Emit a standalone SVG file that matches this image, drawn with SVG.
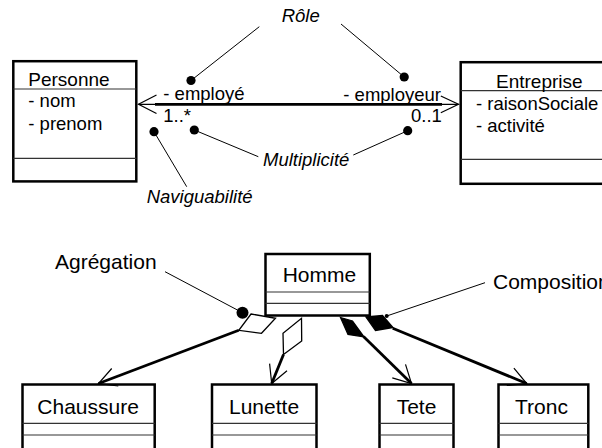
<svg xmlns="http://www.w3.org/2000/svg" width="602" height="448" viewBox="0 0 602 448">
  <style>
    .box { fill: #fff; stroke: #000; stroke-width: 2.5; }
    .sep { stroke: #333; stroke-width: 1.2; fill: none; }
    .t { font-family: "Liberation Sans", Arial, sans-serif; font-size: 18.5px; fill: #000; }
    .tb { font-family: "Liberation Sans", Arial, sans-serif; font-size: 21px; fill: #000; }
    .it { font-style: italic; }
    .thin { stroke: #000; stroke-width: 1.2; fill: none; }
    .thick { stroke: #000; stroke-width: 2.8; fill: none; }
    .lead { stroke: #000; stroke-width: 1; fill: none; }
    .odia { fill: #fff; stroke: #000; stroke-width: 1.3; }
    .fdia { fill: #000; stroke: #000; stroke-width: 1.3; }
  </style>

  <!-- classes -->
  <g id="personne">
    <rect class="box" x="13.3" y="61.2" width="123" height="120.2"/>
    <line class="sep" x1="13.3" y1="89" x2="136.3" y2="89"/>
    <line class="sep" x1="13.3" y1="158.3" x2="136.3" y2="158.3"/>
    <text class="t" x="28.3" y="85.5" style="font-size:19px">Personne</text>
    <text class="t" x="28.3" y="106.7">- nom</text>
    <text class="t" x="28.3" y="130">- prenom</text>
  </g>

  <g id="entreprise">
    <rect class="box" x="460.7" y="62.2" width="160" height="121.6"/>
    <line class="sep" x1="460.7" y1="90.7" x2="602" y2="90.7"/>
    <line class="sep" x1="460.7" y1="159.3" x2="602" y2="159.3"/>
    <text class="t" x="496" y="87.5" style="font-size:19px">Entreprise</text>
    <text class="t" x="476" y="110">- raisonSociale</text>
    <text class="t" x="476" y="131.7">- activité</text>
  </g>

  <g id="homme">
    <rect class="box" x="265.5" y="254" width="104.3" height="61.5"/>
    <line class="sep" x1="265.5" y1="292" x2="369.8" y2="292"/>
    <line class="sep" x1="265.5" y1="303.3" x2="369.8" y2="303.3"/>
    <text class="tb" x="282.7" y="281.7">Homme</text>
  </g>

  <g id="chaussure">
    <rect class="box" x="22.5" y="384.5" width="132.2" height="80"/>
    <line class="sep" x1="22.5" y1="423.3" x2="154.7" y2="423.3"/>
    <line class="sep" x1="22.5" y1="435" x2="154.7" y2="435"/>
    <text class="tb" x="37.3" y="414.3">Chaussure</text>
  </g>

  <g id="lunette">
    <rect class="box" x="212" y="384.5" width="104.5" height="80"/>
    <line class="sep" x1="212" y1="423.3" x2="316.5" y2="423.3"/>
    <line class="sep" x1="212" y1="435" x2="316.5" y2="435"/>
    <text class="tb" x="229" y="414.3">Lunette</text>
  </g>

  <g id="tete">
    <rect class="box" x="379.5" y="384.5" width="74" height="80"/>
    <line class="sep" x1="379.5" y1="423.3" x2="453.5" y2="423.3"/>
    <line class="sep" x1="379.5" y1="435" x2="453.5" y2="435"/>
    <text class="tb" x="396.7" y="414.3">Tete</text>
  </g>

  <g id="tronc">
    <rect class="box" x="498.5" y="384.5" width="89.8" height="80"/>
    <line class="sep" x1="498.5" y1="423.3" x2="588.3" y2="423.3"/>
    <line class="sep" x1="498.5" y1="435" x2="588.3" y2="435"/>
    <text class="tb" x="515" y="414.3">Tronc</text>
  </g>

  <!-- associations -->
  <g id="connectors">
    <!-- Personne / Entreprise, navigable both ways -->
    <line class="thin" x1="138.5" y1="104.3" x2="458.5" y2="104.3"/>
    <line class="thick" x1="155" y1="104.3" x2="442" y2="104.3"/>
    <polyline class="thin" points="156.5,95 138.5,104.3 156.5,113.5"/>
    <polyline class="thin" points="440.8,96 458.5,104.3 440.8,112.7"/>
    <text class="t" x="163.3" y="100">- employé</text>
    <text class="t" x="163.3" y="121.7">1..*</text>
    <text class="t" x="343.3" y="100.5">- employeur</text>
    <text class="t" x="411" y="121.7">0..1</text>

    <!-- aggregation Homme - Chaussure -->
    <line class="thick" x1="238.8" y1="330.3" x2="98.5" y2="383.5"/>
    <polygon class="odia" points="251,314 275.5,318.3 261.5,333.3 238.8,330.3"/>
    <polyline class="thin" points="111.7,368.5 98.5,383.5 118.3,386"/>

    <!-- aggregation Homme - Lunette -->
    <line class="thick" x1="283.5" y1="354.5" x2="271.7" y2="383.5"/>
    <polygon class="odia" points="301.5,318.3 301.7,341 283.5,354.5 283,333.3"/>
    <polyline class="thin" points="269.6,363.6 271.7,383.5 287,370.7"/>

    <!-- composition Homme - Tete -->
    <line class="thick" x1="363.5" y1="336.5" x2="411.5" y2="383.5"/>
    <polygon class="fdia" points="340.5,317.5 352.5,321 364,336.8 348,334.5"/>
    <polyline class="thin" points="405.5,364.4 411.5,383.5 392.3,377.9"/>

    <!-- composition Homme - Tronc -->
    <line class="thick" x1="392.7" y1="328.3" x2="526.7" y2="383.5"/>
    <polygon class="fdia" points="366,317 382.5,315.5 393,327.5 375.5,330.5"/>
    <polyline class="thin" points="513.9,368.1 526.7,383.5 506.8,385.5"/>
  </g>

  <!-- callouts -->
  <g id="notes">
    <text class="t it" x="281.7" y="22.3">Rôle</text>
    <line class="lead" x1="259.3" y1="26.7" x2="191" y2="80.5"/>
    <circle cx="191" cy="80.5" r="4.6"/>
    <line class="lead" x1="341" y1="24" x2="404.2" y2="77"/>
    <circle cx="404.2" cy="77" r="4.6"/>

    <text class="t it" x="263" y="166">Multiplicité</text>
    <line class="lead" x1="258.3" y1="156.7" x2="194.3" y2="130"/>
    <circle cx="194.3" cy="130" r="4.6"/>
    <line class="lead" x1="353.3" y1="155" x2="407.7" y2="130.7"/>
    <circle cx="407.7" cy="130.7" r="4.6"/>

    <text class="t it" x="146.7" y="202.7">Naviguabilité</text>
    <line class="lead" x1="186.7" y1="186.7" x2="154" y2="131.7"/>
    <circle cx="154" cy="131.7" r="4.6"/>

    <text class="tb" x="55" y="269.3">Agrégation</text>
    <line class="lead" x1="165" y1="271.7" x2="242.5" y2="312.7"/>
    <circle cx="242.5" cy="312.7" r="6"/>

    <text class="tb" x="493" y="288.5">Composition</text>
    <line class="lead" x1="485" y1="282.7" x2="386.7" y2="316"/>
    <circle cx="386.7" cy="316" r="2"/>
  </g>
</svg>
